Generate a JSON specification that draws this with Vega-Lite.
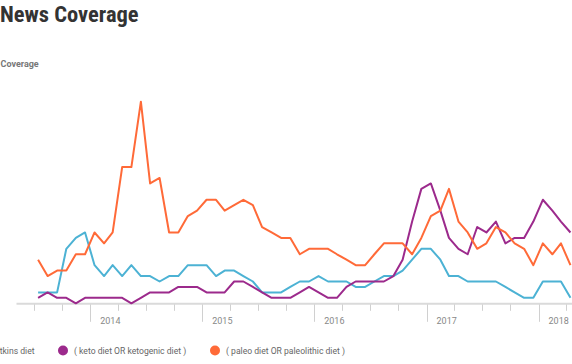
{
  "$schema": "https://vega.github.io/schema/vega-lite/v6.json",
  "autosize": {"type": "none"},
  "padding": {"left": 16, "top": 101.7, "right": 0, "bottom": 60.7},
  "width": 556,
  "height": 201.6,
  "background": "white",
  "title": {"text": "News Coverage", "anchor": "start", "frame": "group", "dx": -16, "offset": 15, "baseline": "alphabetic", "font": "'Roboto Condensed', 'Liberation Sans Narrow', 'DejaVu Sans Condensed', Roboto, sans-serif", "fontSize": 22.5, "fontWeight": "bold", "color": "#333333"},
  "data": {"values": [
    {"date":"2013-07-15","series":"atkins diet","value":2},{"date":"2013-07-15","series":"( keto diet OR ketogenic diet )","value":1},{"date":"2013-07-15","series":"( paleo diet OR paleolithic diet )","value":8},
    {"date":"2013-08-15","series":"atkins diet","value":2},{"date":"2013-08-15","series":"( keto diet OR ketogenic diet )","value":2},{"date":"2013-08-15","series":"( paleo diet OR paleolithic diet )","value":5},
    {"date":"2013-09-15","series":"atkins diet","value":2},{"date":"2013-09-15","series":"( keto diet OR ketogenic diet )","value":1},{"date":"2013-09-15","series":"( paleo diet OR paleolithic diet )","value":6},
    {"date":"2013-10-15","series":"atkins diet","value":10},{"date":"2013-10-15","series":"( keto diet OR ketogenic diet )","value":1},{"date":"2013-10-15","series":"( paleo diet OR paleolithic diet )","value":6},
    {"date":"2013-11-15","series":"atkins diet","value":12},{"date":"2013-11-15","series":"( keto diet OR ketogenic diet )","value":0},{"date":"2013-11-15","series":"( paleo diet OR paleolithic diet )","value":9},
    {"date":"2013-12-15","series":"atkins diet","value":13},{"date":"2013-12-15","series":"( keto diet OR ketogenic diet )","value":1},{"date":"2013-12-15","series":"( paleo diet OR paleolithic diet )","value":9},
    {"date":"2014-01-15","series":"atkins diet","value":7},{"date":"2014-01-15","series":"( keto diet OR ketogenic diet )","value":1},{"date":"2014-01-15","series":"( paleo diet OR paleolithic diet )","value":13},
    {"date":"2014-02-15","series":"atkins diet","value":5},{"date":"2014-02-15","series":"( keto diet OR ketogenic diet )","value":1},{"date":"2014-02-15","series":"( paleo diet OR paleolithic diet )","value":11},
    {"date":"2014-03-15","series":"atkins diet","value":7},{"date":"2014-03-15","series":"( keto diet OR ketogenic diet )","value":1},{"date":"2014-03-15","series":"( paleo diet OR paleolithic diet )","value":13},
    {"date":"2014-04-15","series":"atkins diet","value":5},{"date":"2014-04-15","series":"( keto diet OR ketogenic diet )","value":1},{"date":"2014-04-15","series":"( paleo diet OR paleolithic diet )","value":25},
    {"date":"2014-05-15","series":"atkins diet","value":7},{"date":"2014-05-15","series":"( keto diet OR ketogenic diet )","value":0},{"date":"2014-05-15","series":"( paleo diet OR paleolithic diet )","value":25},
    {"date":"2014-06-15","series":"atkins diet","value":5},{"date":"2014-06-15","series":"( keto diet OR ketogenic diet )","value":1},{"date":"2014-06-15","series":"( paleo diet OR paleolithic diet )","value":37},
    {"date":"2014-07-15","series":"atkins diet","value":5},{"date":"2014-07-15","series":"( keto diet OR ketogenic diet )","value":2},{"date":"2014-07-15","series":"( paleo diet OR paleolithic diet )","value":22},
    {"date":"2014-08-15","series":"atkins diet","value":4},{"date":"2014-08-15","series":"( keto diet OR ketogenic diet )","value":2},{"date":"2014-08-15","series":"( paleo diet OR paleolithic diet )","value":23},
    {"date":"2014-09-15","series":"atkins diet","value":5},{"date":"2014-09-15","series":"( keto diet OR ketogenic diet )","value":2},{"date":"2014-09-15","series":"( paleo diet OR paleolithic diet )","value":13},
    {"date":"2014-10-15","series":"atkins diet","value":5},{"date":"2014-10-15","series":"( keto diet OR ketogenic diet )","value":3},{"date":"2014-10-15","series":"( paleo diet OR paleolithic diet )","value":13},
    {"date":"2014-11-15","series":"atkins diet","value":7},{"date":"2014-11-15","series":"( keto diet OR ketogenic diet )","value":3},{"date":"2014-11-15","series":"( paleo diet OR paleolithic diet )","value":16},
    {"date":"2014-12-15","series":"atkins diet","value":7},{"date":"2014-12-15","series":"( keto diet OR ketogenic diet )","value":3},{"date":"2014-12-15","series":"( paleo diet OR paleolithic diet )","value":17},
    {"date":"2015-01-15","series":"atkins diet","value":7},{"date":"2015-01-15","series":"( keto diet OR ketogenic diet )","value":2},{"date":"2015-01-15","series":"( paleo diet OR paleolithic diet )","value":19},
    {"date":"2015-02-15","series":"atkins diet","value":5},{"date":"2015-02-15","series":"( keto diet OR ketogenic diet )","value":2},{"date":"2015-02-15","series":"( paleo diet OR paleolithic diet )","value":19},
    {"date":"2015-03-15","series":"atkins diet","value":6},{"date":"2015-03-15","series":"( keto diet OR ketogenic diet )","value":2},{"date":"2015-03-15","series":"( paleo diet OR paleolithic diet )","value":17},
    {"date":"2015-04-15","series":"atkins diet","value":6},{"date":"2015-04-15","series":"( keto diet OR ketogenic diet )","value":4},{"date":"2015-04-15","series":"( paleo diet OR paleolithic diet )","value":18},
    {"date":"2015-05-15","series":"atkins diet","value":5},{"date":"2015-05-15","series":"( keto diet OR ketogenic diet )","value":4},{"date":"2015-05-15","series":"( paleo diet OR paleolithic diet )","value":19},
    {"date":"2015-06-15","series":"atkins diet","value":4},{"date":"2015-06-15","series":"( keto diet OR ketogenic diet )","value":3},{"date":"2015-06-15","series":"( paleo diet OR paleolithic diet )","value":18},
    {"date":"2015-07-15","series":"atkins diet","value":2},{"date":"2015-07-15","series":"( keto diet OR ketogenic diet )","value":2},{"date":"2015-07-15","series":"( paleo diet OR paleolithic diet )","value":14},
    {"date":"2015-08-15","series":"atkins diet","value":2},{"date":"2015-08-15","series":"( keto diet OR ketogenic diet )","value":1},{"date":"2015-08-15","series":"( paleo diet OR paleolithic diet )","value":13},
    {"date":"2015-09-15","series":"atkins diet","value":2},{"date":"2015-09-15","series":"( keto diet OR ketogenic diet )","value":1},{"date":"2015-09-15","series":"( paleo diet OR paleolithic diet )","value":12},
    {"date":"2015-10-15","series":"atkins diet","value":3},{"date":"2015-10-15","series":"( keto diet OR ketogenic diet )","value":1},{"date":"2015-10-15","series":"( paleo diet OR paleolithic diet )","value":12},
    {"date":"2015-11-15","series":"atkins diet","value":4},{"date":"2015-11-15","series":"( keto diet OR ketogenic diet )","value":2},{"date":"2015-11-15","series":"( paleo diet OR paleolithic diet )","value":9},
    {"date":"2015-12-15","series":"atkins diet","value":4},{"date":"2015-12-15","series":"( keto diet OR ketogenic diet )","value":3},{"date":"2015-12-15","series":"( paleo diet OR paleolithic diet )","value":10},
    {"date":"2016-01-15","series":"atkins diet","value":5},{"date":"2016-01-15","series":"( keto diet OR ketogenic diet )","value":2},{"date":"2016-01-15","series":"( paleo diet OR paleolithic diet )","value":10},
    {"date":"2016-02-15","series":"atkins diet","value":4},{"date":"2016-02-15","series":"( keto diet OR ketogenic diet )","value":1},{"date":"2016-02-15","series":"( paleo diet OR paleolithic diet )","value":10},
    {"date":"2016-03-15","series":"atkins diet","value":4},{"date":"2016-03-15","series":"( keto diet OR ketogenic diet )","value":1},{"date":"2016-03-15","series":"( paleo diet OR paleolithic diet )","value":9},
    {"date":"2016-04-15","series":"atkins diet","value":4},{"date":"2016-04-15","series":"( keto diet OR ketogenic diet )","value":3},{"date":"2016-04-15","series":"( paleo diet OR paleolithic diet )","value":8},
    {"date":"2016-05-15","series":"atkins diet","value":3},{"date":"2016-05-15","series":"( keto diet OR ketogenic diet )","value":4},{"date":"2016-05-15","series":"( paleo diet OR paleolithic diet )","value":7},
    {"date":"2016-06-15","series":"atkins diet","value":3},{"date":"2016-06-15","series":"( keto diet OR ketogenic diet )","value":4},{"date":"2016-06-15","series":"( paleo diet OR paleolithic diet )","value":7},
    {"date":"2016-07-15","series":"atkins diet","value":4},{"date":"2016-07-15","series":"( keto diet OR ketogenic diet )","value":4},{"date":"2016-07-15","series":"( paleo diet OR paleolithic diet )","value":9},
    {"date":"2016-08-15","series":"atkins diet","value":5},{"date":"2016-08-15","series":"( keto diet OR ketogenic diet )","value":4},{"date":"2016-08-15","series":"( paleo diet OR paleolithic diet )","value":11},
    {"date":"2016-09-15","series":"atkins diet","value":5},{"date":"2016-09-15","series":"( keto diet OR ketogenic diet )","value":5},{"date":"2016-09-15","series":"( paleo diet OR paleolithic diet )","value":11},
    {"date":"2016-10-15","series":"atkins diet","value":6},{"date":"2016-10-15","series":"( keto diet OR ketogenic diet )","value":8},{"date":"2016-10-15","series":"( paleo diet OR paleolithic diet )","value":11},
    {"date":"2016-11-15","series":"atkins diet","value":8},{"date":"2016-11-15","series":"( keto diet OR ketogenic diet )","value":15},{"date":"2016-11-15","series":"( paleo diet OR paleolithic diet )","value":9},
    {"date":"2016-12-15","series":"atkins diet","value":10},{"date":"2016-12-15","series":"( keto diet OR ketogenic diet )","value":21},{"date":"2016-12-15","series":"( paleo diet OR paleolithic diet )","value":12},
    {"date":"2017-01-15","series":"atkins diet","value":10},{"date":"2017-01-15","series":"( keto diet OR ketogenic diet )","value":22},{"date":"2017-01-15","series":"( paleo diet OR paleolithic diet )","value":16},
    {"date":"2017-02-15","series":"atkins diet","value":8},{"date":"2017-02-15","series":"( keto diet OR ketogenic diet )","value":17},{"date":"2017-02-15","series":"( paleo diet OR paleolithic diet )","value":17},
    {"date":"2017-03-15","series":"atkins diet","value":5},{"date":"2017-03-15","series":"( keto diet OR ketogenic diet )","value":12},{"date":"2017-03-15","series":"( paleo diet OR paleolithic diet )","value":21},
    {"date":"2017-04-15","series":"atkins diet","value":5},{"date":"2017-04-15","series":"( keto diet OR ketogenic diet )","value":10},{"date":"2017-04-15","series":"( paleo diet OR paleolithic diet )","value":15},
    {"date":"2017-05-15","series":"atkins diet","value":4},{"date":"2017-05-15","series":"( keto diet OR ketogenic diet )","value":9},{"date":"2017-05-15","series":"( paleo diet OR paleolithic diet )","value":13},
    {"date":"2017-06-15","series":"atkins diet","value":4},{"date":"2017-06-15","series":"( keto diet OR ketogenic diet )","value":14},{"date":"2017-06-15","series":"( paleo diet OR paleolithic diet )","value":10},
    {"date":"2017-07-15","series":"atkins diet","value":4},{"date":"2017-07-15","series":"( keto diet OR ketogenic diet )","value":13},{"date":"2017-07-15","series":"( paleo diet OR paleolithic diet )","value":11},
    {"date":"2017-08-15","series":"atkins diet","value":4},{"date":"2017-08-15","series":"( keto diet OR ketogenic diet )","value":15},{"date":"2017-08-15","series":"( paleo diet OR paleolithic diet )","value":14},
    {"date":"2017-09-15","series":"atkins diet","value":3},{"date":"2017-09-15","series":"( keto diet OR ketogenic diet )","value":11},{"date":"2017-09-15","series":"( paleo diet OR paleolithic diet )","value":13},
    {"date":"2017-10-15","series":"atkins diet","value":2},{"date":"2017-10-15","series":"( keto diet OR ketogenic diet )","value":12},{"date":"2017-10-15","series":"( paleo diet OR paleolithic diet )","value":11},
    {"date":"2017-11-15","series":"atkins diet","value":1},{"date":"2017-11-15","series":"( keto diet OR ketogenic diet )","value":12},{"date":"2017-11-15","series":"( paleo diet OR paleolithic diet )","value":10},
    {"date":"2017-12-15","series":"atkins diet","value":1},{"date":"2017-12-15","series":"( keto diet OR ketogenic diet )","value":15},{"date":"2017-12-15","series":"( paleo diet OR paleolithic diet )","value":7},
    {"date":"2018-01-15","series":"atkins diet","value":4},{"date":"2018-01-15","series":"( keto diet OR ketogenic diet )","value":19},{"date":"2018-01-15","series":"( paleo diet OR paleolithic diet )","value":11},
    {"date":"2018-02-15","series":"atkins diet","value":4},{"date":"2018-02-15","series":"( keto diet OR ketogenic diet )","value":17},{"date":"2018-02-15","series":"( paleo diet OR paleolithic diet )","value":9},
    {"date":"2018-03-15","series":"atkins diet","value":4},{"date":"2018-03-15","series":"( keto diet OR ketogenic diet )","value":15},{"date":"2018-03-15","series":"( paleo diet OR paleolithic diet )","value":11},
    {"date":"2018-04-15","series":"atkins diet","value":1},{"date":"2018-04-15","series":"( keto diet OR ketogenic diet )","value":13},{"date":"2018-04-15","series":"( paleo diet OR paleolithic diet )","value":7}
  ]},
  "mark": {"type": "line", "strokeWidth": 2, "strokeJoin": "round"},
  "encoding": {
    "x": {
      "field": "date", "type": "temporal",
      "scale": {"type": "utc", "domain": [{"year": 2013, "month": 5, "date": 4, "utc": true}, {"year": 2018, "month": 4, "date": 20, "utc": true}]},
      "axis": {
        "title": null, "grid": false,
        "tickCount": {"interval": "month", "step": 3},
        "labelExpr": "utcmonth(datum.value) == 0 ? utcFormat(datum.value, '%Y') : ''",
        "labelAlign": "left", "labelOffset": 9.5, "labelPadding": -4.5, "labelBaseline": "top",
        "labelFont": "Roboto", "labelFontSize": 9, "labelColor": "#888888",
        "labelOverlap": false, "labelFlush": false,
        "domainColor": "#dadada", "domainWidth": 2,
        "tickColor": "#d0d0d0", "tickWidth": 1,
        "tickSize": {"condition": {"test": "utcmonth(datum.value) == 0", "value": 18}, "value": 7}
      }
    },
    "y": {
      "field": "value", "type": "quantitative",
      "scale": {"domain": [0, 37], "nice": false},
      "axis": {
        "labels": false, "ticks": false, "domain": false, "grid": false,
        "title": "Coverage", "titleAngle": 0, "titleAlign": "left", "titleBaseline": "alphabetic",
        "titleX": -16, "titleY": -35.2, "titleFont": "Roboto", "titleFontSize": 9, "titleFontWeight": "bold", "titleColor": "#777777"
      }
    },
    "color": {
      "field": "series", "type": "nominal",
      "scale": {"domain": ["atkins diet", "( keto diet OR ketogenic diet )", "( paleo diet OR paleolithic diet )"], "range": ["#4cb2d4", "#9c2a8c", "#ff6a38"]},
      "legend": {
        "orient": "none", "legendX": -37, "legendY": 243.8, "direction": "horizontal", "title": null,
        "symbolType": "circle", "symbolSize": 100, "symbolStrokeWidth": 0,
        "labelFont": "Roboto", "labelFontSize": 8.6, "labelColor": "#666666", "labelOffset": 6,
        "columnPadding": 23, "padding": 0,
        "encode": {"symbols": {"update": {"fill": {"scale": "color", "field": "value"}, "opacity": {"value": 1}}}}
      }
    }
  },
  "config": {"view": {"stroke": null}}
}
